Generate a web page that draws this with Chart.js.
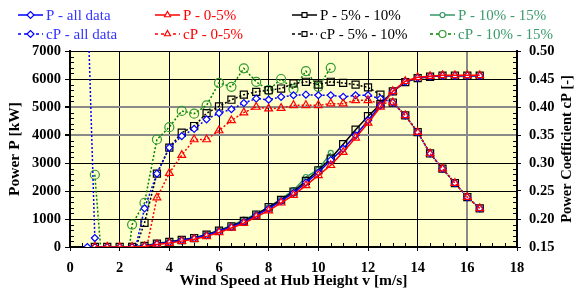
<!DOCTYPE html>
<html>
<head>
<meta charset="utf-8">
<script src="https://cdn.jsdelivr.net/npm/chart.js@4.4.1/dist/chart.umd.min.js"></script>
<style>
  html, body { margin: 0; padding: 0; background: #fff; }
  #wrap { width: 575px; height: 294px; }
</style>
</head>
<body>
<div id="wrap"><canvas id="powerChart" width="575" height="294"></canvas></div>
<script>
// wind speed bins [m/s]
const windAll = [0.7, 1, 1.5, 2, 2.5, 3, 3.5, 4, 4.5, 5, 5.5, 6, 6.5, 7, 7.5, 8, 8.5, 9, 9.5, 10,
  10.5, 11, 11.5, 12, 12.5, 13, 13.5, 14, 14.5, 15, 15.5, 16, 16.5];
const windBin = [1, 1.5, 2, 2.5, 3, 3.5, 4, 4.5, 5, 5.5, 6, 6.5, 7, 7.5, 8, 8.5, 9, 9.5, 10,
  10.5, 11, 11.5, 12, 12.5, 13, 13.5, 14, 14.5, 15, 15.5, 16, 16.5];
const windHigh = [1, 1.5, 2, 2.5, 3, 3.5, 4, 4.5, 5, 5.5, 6, 6.5, 7, 7.5, 8, 8.5, 9, 9.5, 10, 10.5];

// power [kW]
const pAll = [0, 5, 0, 0, 5, 30, 110, 170, 240, 310, 420, 560, 720, 900, 1130, 1370, 1640, 1930, 2300, 2660,
  3100, 3510, 3990, 4520, 5060, 5560, 5900, 6040, 6090, 6120, 6120, 6120, 6120];
const pLow = [0, 0, 0, 0, 20, 90, 140, 210, 280, 380, 520, 680, 850, 1080, 1300, 1580, 1850, 2200, 2560,
  2920, 3390, 3900, 4430, 5000, 5560, 5920, 6060, 6100, 6130, 6130, 6130, 6130];
const pMid = [0, 0, 0, 0, 40, 120, 180, 250, 320, 440, 580, 740, 930, 1160, 1420, 1680, 1980, 2360, 2740,
  3160, 3670, 4190, 4670, 5100, 5560, 5890, 6030, 6080, 6120, 6120, 6120, 6120];
const pHigh = [0, 0, 0, 0, 40, 130, 190, 260, 330, 450, 600, 760, 980, 1180, 1420, 1720, 2030, 2500, 2770, 3360];

// power coefficient [-]
const cpAll = [0.6, 0.166, 0, 0, 0.12, 0.219, 0.281, 0.3275, 0.348, 0.361, 0.378, 0.389, 0.396, 0.407,
  0.415, 0.413, 0.418, 0.421, 0.422, 0.421, 0.421, 0.418, 0.421, 0.421, 0.415, 0.408, 0.385, 0.355,
  0.317, 0.29, 0.264, 0.239, 0.219];
const cpLow = [0, 0, 0, 0, 0.13, 0.238, 0.282, 0.314, 0.342, 0.342, 0.358, 0.376, 0.39, 0.4, 0.397, 0.398,
  0.403, 0.403, 0.403, 0.406, 0.406, 0.412, 0.412, 0.406, 0.408, 0.385, 0.355, 0.317, 0.29, 0.264, 0.239, 0.219];
const cpMid = [0, 0, 0, 0.13, 0.193, 0.281, 0.3275, 0.354, 0.366, 0.389, 0.401, 0.413, 0.422, 0.427, 0.43,
  0.433, 0.442, 0.445, 0.44, 0.445, 0.443, 0.44, 0.435, 0.422, 0.408, 0.385, 0.355, 0.317, 0.29, 0.264, 0.239, 0.219];
const cpHigh = [0.279, 0, 0, 0.19, 0.229, 0.342, 0.364, 0.393, 0.388, 0.403, 0.443, 0.436, 0.469, 0.445,
  0.43, 0.45, 0.432, 0.464, 0.436, 0.47];

const pTicks = [0, 1000, 2000, 3000, 4000, 5000, 6000, 7000];
const cpTicks = [0.15, 0.2, 0.25, 0.3, 0.35, 0.4, 0.45, 0.5];

const FONT = "'Liberation Serif', 'Times New Roman', serif";

function pts(xs, ys) {
  return xs.map((x, i) => ({ x: x, y: ys[i] }));
}

function series(label, xs, ys, axis, opts) {
  return Object.assign({
    label: label,
    data: pts(xs, ys),
    yAxisID: axis,
    showLine: true,
    tension: 0,
    borderWidth: 1.5,
    pointBorderWidth: 1.2,
    pointBackgroundColor: "rgba(0,0,0,0)",
  }, opts);
}

const datasets = [
  series("P - 0-5%", windBin, pLow, "y", { borderColor: "#ff0000", pointBorderColor: "#ff0000", pointStyle: "triangle", pointRadius: 4.5 }),
  series("P - all data", windAll, pAll, "y", { borderColor: "#0000ff", pointBorderColor: "#0000ff", pointBackgroundColor: "#ffffff", pointStyle: "rectRot", pointRadius: 3.5 }),
  series("P - 5% - 10%", windBin, pMid, "y", { borderColor: "#000000", pointBorderColor: "#000000", pointStyle: "rect", pointRadius: 5 }),
  series("P - 10% - 15%", windHigh, pHigh, "y", { borderColor: "#339966", pointBorderColor: "#339966", pointStyle: "circle", pointRadius: 2.5 }),
  series("cP - 0-5%", windBin, cpLow, "y2", { borderColor: "#ff0000", borderDash: [2, 2], pointBorderColor: "#ff0000", pointStyle: "triangle", pointRadius: 4.5 }),
  series("cP - all data", windAll, cpAll, "y2", { borderColor: "#0000ff", borderDash: [2, 2], pointBorderColor: "#0000ff", pointBackgroundColor: "#ffffff", pointStyle: "rectRot", pointRadius: 3.5 }),
  series("cP - 5% - 10%", windBin, cpMid, "y2", { borderColor: "#000000", borderDash: [2, 2], pointBorderColor: "#000000", pointStyle: "rect", pointRadius: 5 }),
  series("cP - 10% - 15%", windHigh, cpHigh, "y2", { borderColor: "#008000", borderDash: [2, 2], pointBorderColor: "#339933", pointStyle: "circle", pointRadius: 4.5 }),
];

// legend layout: P series on the first row, cP series on the second
const legendItems = [
  { ds: 1, x: 18, y: 15, text: "#3333ff" }, { ds: 0, x: 155, y: 15, text: "#ff0000" },
  { ds: 2, x: 292, y: 15, text: "#000000" }, { ds: 3, x: 430, y: 15, text: "#3a9a6a" },
  { ds: 5, x: 18, y: 34, text: "#3333ff" }, { ds: 4, x: 155, y: 34, text: "#ff0000" },
  { ds: 6, x: 292, y: 34, text: "#000000" }, { ds: 7, x: 430, y: 34, text: "#3a9a6a" },
];

const decorPlugin = {
  id: "decor",
  beforeDraw(chart) {
    const { ctx, chartArea: a } = chart;
    ctx.save();
    ctx.fillStyle = "#ffffcc";
    ctx.fillRect(a.left, a.top, a.right - a.left, a.bottom - a.top);
    ctx.restore();
  },
  beforeDatasetsDraw(chart) {
    const { ctx, chartArea: a, scales } = chart;
    ctx.save();
    ctx.strokeStyle = "#000";
    ctx.lineWidth = 1;
    ctx.beginPath();
    for (let v = 0; v <= 7000; v += 200) {
      if (v % 1000 === 0) continue;
      const y = Math.round(scales.y.getPixelForValue(v)) + 0.5;
      ctx.moveTo(a.left, y); ctx.lineTo(a.left + 4, y);
    }
    for (let i = 15; i <= 50; i++) {
      if (i % 5 === 0) continue;
      const y = Math.round(scales.y2.getPixelForValue(i / 100)) + 0.5;
      ctx.moveTo(a.right - 4, y); ctx.lineTo(a.right, y);
    }
    for (let v = 0.5; v < 18; v += 0.5) {
      if (v % 2 === 0) continue;
      const x = Math.round(scales.x.getPixelForValue(v)) + 0.5;
      ctx.moveTo(x, a.bottom); ctx.lineTo(x, a.bottom - 4);
    }
    ctx.stroke();
    ctx.lineWidth = 1;
    ctx.strokeRect(a.left + 0.5, a.top + 0.5, a.right - a.left - 1, a.bottom - a.top - 1);
    ctx.restore();
  },
  afterDraw(chart) {
    const { ctx, chartArea: a } = chart;
    ctx.save();
    // right axis title, reading bottom to top
    ctx.translate(567, (a.top + a.bottom) / 2);
    ctx.rotate(-Math.PI / 2);
    ctx.font = "bold 14.5px " + FONT;
    ctx.fillStyle = "#000";
    ctx.textAlign = "center";
    ctx.textBaseline = "middle";
    ctx.fillText("Power Coefficient cP [-]", 0, 0);
    ctx.restore();

    ctx.save();
    ctx.font = "15px " + FONT;
    ctx.textBaseline = "middle";
    legendItems.forEach((it) => {
      const ds = chart.data.datasets[it.ds];
      ctx.strokeStyle = ds.borderColor;
      ctx.lineWidth = 1.5;
      ctx.setLineDash(ds.borderDash ? [3, 3] : []);
      ctx.beginPath();
      ctx.moveTo(it.x, it.y); ctx.lineTo(it.x + 25, it.y);
      ctx.stroke();
      ctx.setLineDash([]);
      ctx.strokeStyle = ds.pointBorderColor;
      ctx.fillStyle = "#ffffff";
      ctx.lineWidth = 1.2;
      const r = Math.min(ds.pointRadius, 3.5);
      if (Chart.helpers && Chart.helpers.drawPoint) {
        Chart.helpers.drawPoint(ctx, { pointStyle: ds.pointStyle, radius: r, borderWidth: 1.2, rotation: 0 }, it.x + 12.5, it.y);
      }
      ctx.fillStyle = it.text;
      ctx.fillText(ds.label, it.x + 28, it.y + 1);
    });
    ctx.restore();
  },
};

new Chart(document.getElementById("powerChart"), {
  type: "scatter",
  data: { datasets: datasets },
  plugins: [decorPlugin],
  options: {
    responsive: false,
    animation: false,
    layout: { padding: { top: 51, left: 0, right: 0, bottom: 0 } },
    plugins: { legend: { display: false }, tooltip: { enabled: false } },
    scales: {
      x: {
        type: "linear",
        min: 0,
        max: 18,
        afterFit: (s) => { s.height = 47; },
        ticks: { stepSize: 2, padding: 9, color: "#000", font: { family: FONT, size: 14.5, weight: "bold" } },
        grid: {
          color: (c) => (c.tick && c.tick.value === 16 ? "#8a8a8a" : "#000"),
          lineWidth: (c) => (c.tick && c.tick.value === 16 ? 2 : 1),
          tickLength: 4,
          tickColor: "#000",
        },
        border: { color: "#000", width: 2 },
        title: {
          display: true,
          text: "Wind Speed at Hub Height v [m/s]",
          color: "#000",
          padding: { top: 0, bottom: 5 },
          font: { family: FONT, size: 15.5, weight: "bold", lineHeight: 1 },
        },
      },
      y: {
        position: "left",
        min: 0,
        max: 7000,
        afterFit: (s) => { s.width = 70; },
        afterBuildTicks: (s) => { s.ticks = pTicks.map((v) => ({ value: v })); },
        ticks: {
          padding: 4,
          color: "#000",
          font: { family: FONT, size: 14.5, weight: "bold" },
          callback: (v) => String(v),
        },
        grid: {
          color: (c) => (c.tick && (c.tick.value === 4000 || c.tick.value === 5000) ? "#8a8a8a" : "#000"),
          lineWidth: (c) => (c.tick && (c.tick.value === 4000 || c.tick.value === 5000) ? 2 : 1),
          tickLength: 5,
          tickColor: "#000",
        },
        border: { color: "#000", width: 2 },
        title: {
          display: true,
          text: "Power P [kW]",
          color: "#000",
          padding: { top: 7, bottom: 0 },
          font: { family: FONT, size: 15.5, weight: "bold", lineHeight: 1 },
        },
      },
      y2: {
        position: "right",
        min: 0.15,
        max: 0.5,
        afterFit: (s) => { s.width = 58; },
        afterBuildTicks: (s) => { s.ticks = cpTicks.map((v) => ({ value: v })); },
        ticks: {
          padding: 8,
          color: "#000",
          font: { family: FONT, size: 14.5, weight: "bold" },
          callback: (v) => Number(v).toFixed(2),
        },
        grid: { drawOnChartArea: false, tickLength: 4, tickColor: "#000" },
        border: { color: "#000", width: 2 },
      },
    },
  },
});
</script>
</body>
</html>
